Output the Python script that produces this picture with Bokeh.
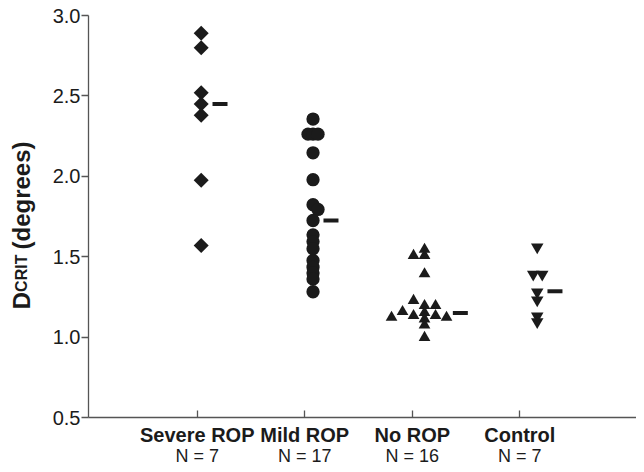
import math
from bokeh.plotting import figure
from bokeh.models import Range1d, FixedTicker, PrintfTickFormatter, Label
from bokeh.embed import file_html
from bokeh.resources import INLINE

# ---------------- data ----------------
categories = ["Severe ROP", "Mild ROP", "No ROP", "Control"]
counts = ["N = 7", "N = 17", "N = 16", "N = 7"]

severe_rop = [2.89, 2.80, 2.52, 2.45, 2.38, 1.975, 1.57]
mild_rop = [2.356, 2.262, 2.262, 2.262, 2.146, 1.979, 1.823, 1.794, 1.725,
            1.636, 1.594, 1.549, 1.476, 1.434, 1.399, 1.361, 1.282]
no_rop = [1.545, 1.507, 1.507, 1.393, 1.227, 1.195, 1.158, 1.122, 1.133,
          1.195, 1.152, 1.112, 1.075, 1.133, 1.122, 0.997]
control = [1.56, 1.39, 1.39, 1.28, 1.23, 1.13, 1.095]
medians = [2.45, 1.725, 1.15, 1.285]

# horizontal spread of overlapping points (in pixels)
severe_jitter = [0, 0, 0, 0, 0, 0, 0]
mild_jitter = [0, -5, 0, 5, 0, 0, 0, 5, 0, 0, 0, 0, 0, 0, 0, 0, 0]
no_rop_jitter = [0, -11, 0, 0, -11, 11, -22, -33, -11, 0, 0, 0, 0, 11, 22, 0]
control_jitter = [0, -4, 5, 0, 0, 0, 0]

# ---------------- layout constants ----------------
W, H = 636, 464
SHIFT = -3             # move the whole drawing up a little so all text fits
PX_X = 107.53          # pixels per category unit
PX_Y = 160.8           # pixels per y unit
X0 = -0.011            # x value at the y axis
AXIS_X_PAGE = 88
AXIS_TOP_PAGE = 18 + SHIFT
FONT = "Liberation Sans"
INK = "#1b1b1b"
AXIS_COL = "#555555"

def xd(page_x):
    return X0 + (page_x - AXIS_X_PAGE) / PX_X

def yd(page_y):
    return 3.0 - (page_y - AXIS_TOP_PAGE) / PX_Y

X_END = xd(W)
p = figure(width=W, height=H, output_backend="svg", toolbar_location=None,
           x_range=Range1d(xd(0), X_END), y_range=Range1d(yd(H), yd(0)),
           min_border=0)
p.background_fill_color = "white"
p.border_fill_color = "white"
p.outline_line_color = None
p.grid.visible = False

groups = [
    (severe_rop, severe_jitter, dict(marker="square", angle=math.pi / 4, size=10.6), 0.037, 0.175),
    (mild_rop, mild_jitter, dict(marker="circle", size=13.3), 0.077, 0.167),
    (no_rop, no_rop_jitter, dict(marker="triangle", size=11.7), 0.114, 0.333),
    (control, control_jitter, dict(marker="inverted_triangle", size=12.5), 0.162, 0.165),
]

for i, (vals, jit, mk, off, bar_off) in enumerate(groups):
    cx = i + 1 + off
    xs = [cx + j / PX_X for j in jit]
    p.scatter(xs, vals, fill_color=INK, line_color=None, **mk)
    p.rect(x=[cx + bar_off], y=[medians[i]], width=15, height=4,
           width_units="screen", height_units="screen",
           fill_color=INK, line_color=None)

# axes
for ax in (p.xaxis[0], p.yaxis[0]):
    ax.axis_line_color = AXIS_COL
    ax.axis_line_width = 1.3
    ax.major_tick_line_color = AXIS_COL
    ax.major_tick_line_width = 1.3
    ax.minor_tick_line_color = None
    ax.major_label_text_color = INK
    ax.major_label_text_font = FONT

p.xaxis.fixed_location = 0.5
p.xaxis.bounds = (X0, X_END)
p.xaxis.ticker = FixedTicker(ticks=[1, 2, 3, 4])
p.xaxis.major_label_overrides = {i + 1: c for i, c in enumerate(categories)}
p.xaxis.major_tick_in = 7
p.xaxis.major_tick_out = 0
p.xaxis.major_label_standoff = 6
p.xaxis.major_label_text_font_size = "20px"
p.xaxis.major_label_text_font_style = "bold"

p.yaxis.fixed_location = X0
p.yaxis.bounds = (0.5, 3.0)
p.yaxis.ticker = FixedTicker(ticks=[0.5, 1.0, 1.5, 2.0, 2.5, 3.0])
p.yaxis.formatter = PrintfTickFormatter(format="%.1f")
p.yaxis.major_tick_out = 7
p.yaxis.major_tick_in = 0
p.yaxis.major_label_standoff = 1
p.yaxis.major_label_text_font_size = "20px"

# N = ... second line of category labels
for i, c in enumerate(counts):
    p.add_layout(Label(x=i + 1, y=yd(455), text=c, text_align="center",
                       text_baseline="alphabetic", text_font=FONT,
                       text_font_size="18px", text_color=INK))

# y axis title: D_CRIT (degrees)
title_parts = [("D", 24, 20.5, 311.7), ("CRIT", 16, 21.2, 294.4), ("(degrees)", 24, 20.5, 252.0)]
for txt, fs, px, py in title_parts:
    p.add_layout(Label(x=xd(px), y=yd(py + SHIFT), text=txt, angle=math.pi / 2,
                       text_align="left", text_baseline="alphabetic",
                       text_font=FONT, text_font_size=f"{fs}px",
                       text_font_style="bold", text_color=INK))

open("out.html", "w").write(file_html(p, INLINE))
